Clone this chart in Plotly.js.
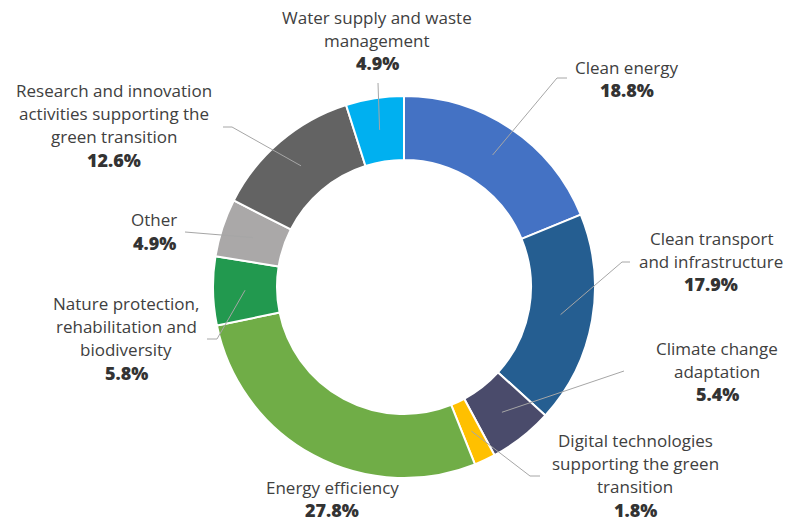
<!DOCTYPE html>
<html>
<head>
<meta charset="utf-8">
<script src="https://cdn.plot.ly/plotly-3.0.1.min.js"></script>
<style>html,body{margin:0;padding:0;background:#fff;}#chart{width:789px;height:521px;}</style>
</head>
<body>
<div id="chart"></div>
<script>
// ---- data ----
var categories = [
  "Clean energy",
  "Clean transport and infrastructure",
  "Climate change adaptation",
  "Digital technologies supporting the green transition",
  "Energy efficiency",
  "Nature protection, rehabilitation and biodiversity",
  "Other",
  "Research and innovation activities supporting the green transition",
  "Water supply and waste management"
];
var shares = [18.8, 17.9, 5.4, 1.8, 27.8, 5.8, 4.9, 12.6, 4.9];
var labelLines = [
  ["Clean energy"],
  ["Clean transport", "and infrastructure"],
  ["Climate change", "adaptation"],
  ["Digital technologies", "supporting the green", "transition"],
  ["Energy efficiency"],
  ["Nature protection,", "rehabilitation and", "biodiversity"],
  ["Other"],
  ["Research and innovation", "activities supporting the", "green transition"],
  ["Water supply and waste", "management"]
];
var colors = ["#4472C4", "#255E91", "#4A4B6B", "#FFC000", "#70AD47", "#22994F", "#AAA8A8", "#636363", "#00B0F0"];

// ---- layout/style ----
var W = 789, H = 521;
var cx = 404, cy = 287, R = 191, rIn = 127;
var labelPos = [ // center x, y of first line (px)
  [627, 67], [711, 238], [717, 348], [635, 440], [332, 487],
  [126, 303], [154, 220], [114, 90], [377, 17]
];
var leaderEnds = [ // polyline points after the slice point (px)
  [[557, 78], [567, 78]],
  [[622, 262], [630, 262]],
  [[624, 371]],
  [[530, 476], [540, 476]],
  [],
  [[217, 339], [207, 339]],
  [[185, 232]],
  [[232, 127], [223, 127]],
  [[378, 83]]
];
function px(x) { return x / W; }
function py(y) { return 1 - y / H; }

var total = shares.reduce(function (a, b) { return a + b; }, 0);
var annotations = [];
var shapes = [];
var cum = 0;
for (var i = 0; i < shares.length; i++) {
  var mid = (cum + shares[i] / 2) / total * 2 * Math.PI;
  cum += shares[i];
  var rm = (R + rIn) / 2;
  var sx = cx + rm * Math.sin(mid), sy = cy - rm * Math.cos(mid);
  if (leaderEnds[i].length) {
    var p = "M " + px(sx) + " " + py(sy);
    leaderEnds[i].forEach(function (pt) { p += " L " + px(pt[0]) + " " + py(pt[1]); });
    shapes.push({type: "path", xref: "paper", yref: "paper", path: p,
      line: {color: "#A6A6A6", width: 1}});
  }
  var lines = labelLines[i].concat([shares[i].toFixed(1) + "%"]);
  for (var j = 0; j < lines.length; j++) {
    var bold = j === lines.length - 1;
    annotations.push({
      xref: "paper", yref: "paper",
      x: px(labelPos[i][0]), y: py(labelPos[i][1] + j * 23.2),
      xanchor: "center", yanchor: "middle",
      text: lines[j], showarrow: false,
      font: bold
        ? {family: "Open Sans, sans-serif", size: 18, weight: 800, color: "#333333"}
        : {family: "Open Sans, sans-serif", size: 17, color: "#404040"}
    });
  }
}

var trace = {
  type: "pie",
  values: shares,
  labels: categories,
  marker: {colors: colors, line: {color: "#FFFFFF", width: 2}},
  hole: rIn / R,
  sort: false,
  direction: "clockwise",
  rotation: 0,
  textinfo: "none",
  hoverinfo: "label+percent",
  showlegend: false,
  domain: {x: [px(cx - R), px(cx + R)], y: [py(cy + R), py(cy - R)]}
};

var layout = {
  width: W, height: H,
  margin: {l: 0, r: 0, t: 0, b: 0},
  paper_bgcolor: "#FFFFFF",
  showlegend: false,
  annotations: annotations,
  shapes: shapes
};
Plotly.newPlot("chart", [trace], layout, {displayModeBar: false, staticPlot: true});
</script>
</body>
</html>
